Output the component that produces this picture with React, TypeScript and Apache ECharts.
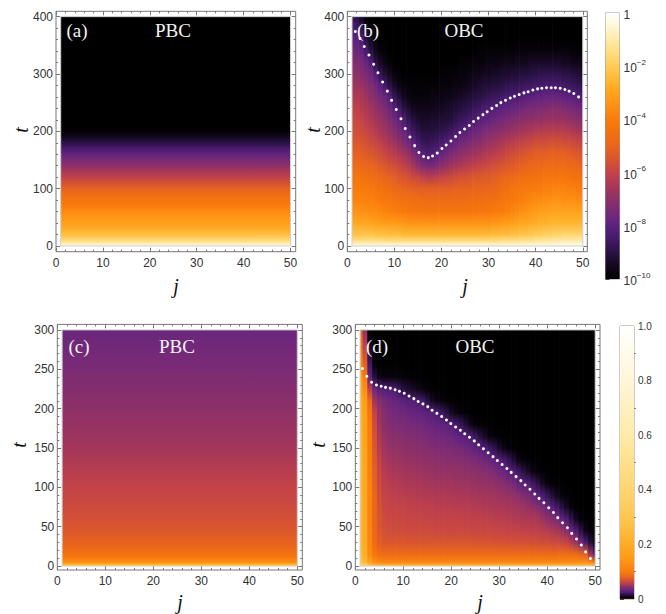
import React, { useEffect, useRef } from "react";
import * as echarts from "echarts";

const SERIF = "Liberation Serif";
const SANS = "Liberation Sans";

// colour ramp: position 0..100 -> colour (5 steps)
const rampColors = ["#000000","#13081f","#2a1245","#431a68","#5c2180","#762a78","#8d3068","#a93757","#c44347","#d8552f","#e8651f","#f2700f","#f97c0d","#fe8f13","#ffa31c","#ffb835","#ffcb58","#ffdc80","#ffeaa8","#fff6d8","#ffffff"];
// amplitude in thousandths -> ramp position, for the linear colour bar
const linearScale = [[0,0],[6,2],[15,10],[25,18],[30,20],[45,30],[60,40],[80,50],[100,60],[150,68],[200,72],[280,78],[400,83],[600,90],[800,95],[1000,100]];

const jTicks = [0,10,20,30,40,50];
const jMinor = [2,4,6,8,12,14,16,18,22,24,26,28,32,34,36,38,42,44,46,48];
const tTicksTop = [0,100,200,300,400];
const tMinorTop = [20,40,60,80,120,140,160,180,220,240,260,280,320,340,360,380];
const tTicksBottom = [0,50,100,150,200,250,300];
const tMinorBottom = [10,20,30,40,60,70,80,90,110,120,130,140,160,170,180,190,210,220,230,240,260,270,280,290];
const logBarTicks = [-10,-8,-6,-4,-2,0];
const linBarTicks = [0,0.2,0.4,0.6,0.8,1];
const linBarMinor = [0.1,0.3,0.5,0.7,0.9];
const sites = [1,2,3,4,5,6,7,8,9,10,11,12,13,14,15,16,17,18,19,20,21,22,23,24,25,26,27,28,29,30,31,32,33,34,35,36,37,38,39,40,41,42,43,44,45,46,47,48,49,50];

// (a) ramp level per time (log10 amplitude * 10 + 100), uniform in j
const aTimes = [0,5,10,20,30,40,50,60,70,80,90,100,110,120,130,140,150,160,170,180,190,200,210,400];
const aLevels = [[97,90,84,77,72,69,67,64,60,57,53,49,44,39,35,30,26,21,16,10,5,1,0,0]];

// (b) same unit, one row per site j; entries follow bTimes, missing tail = 0
const bTimes = [0,10,20,40,60,80,100,120,140,160,180,200,220,240,260,280,300,320,340,360,380,400];
const bLevels = [
[97,85,78,71,66,62,60,57,53,49,46,44,42,40,37,34,31,28,25,21,18,14],
[97,85,78,71,66,62,60,57,53,49,46,43,41,39,36,33,30,27,23,20,15,10],
[97,85,78,71,65,62,59,56,52,48,45,42,40,37,35,32,28,25,21,17,11,5],
[97,85,78,71,65,61,59,55,51,47,44,41,38,36,33,30,26,22,16,10,5,2],
[97,85,78,70,64,61,58,54,50,46,42,39,36,33,30,27,23,18,10,5,2],
[97,85,77,69,64,60,57,53,49,44,41,37,34,31,28,24,18,10,5,2],
[97,85,77,69,63,59,56,52,47,43,39,35,32,29,25,20,12,6,2],
[97,84,77,68,62,58,55,50,46,41,37,33,30,26,22,15,8,3,1],
[97,84,76,68,61,58,54,49,44,39,35,31,27,23,18,10,5,1],
[97,84,76,68,60,57,52,48,43,38,33,28,24,19,12,6,2],
[97,84,76,67,60,56,51,46,41,36,30,25,21,15,8,3,1],
[97,84,75,67,59,55,50,45,39,34,27,22,17,10,5,2],
[97,84,75,66,58,55,49,44,37,31,24,18,12,7,3,1],
[97,84,75,66,58,54,49,42,34,27,20,14,9,5,2,1],
[97,84,75,66,57,54,48,41,30,23,16,11,7,4,2,1],
[97,84,75,66,57,53,48,39,27,19,13,9,6,4,2,1],
[97,84,75,66,57,53,48,38,25,17,12,9,6,4,2,1],
[97,84,75,66,57,53,48,38,25,18,13,9,7,4,3,1],
[97,84,75,66,57,53,48,39,27,20,14,10,7,5,3,1],
[97,84,75,66,57,53,48,40,29,22,16,11,8,5,3,2,1],
[97,84,75,66,57,53,48,41,31,24,18,12,8,6,4,2,1],
[97,84,75,66,57,53,48,42,33,26,20,14,9,7,4,2,1],
[97,84,75,66,57,53,49,43,35,28,22,16,11,8,5,3,1],
[97,84,75,66,57,53,49,44,36,30,24,18,13,9,6,3,2,1],
[97,84,75,66,57,53,49,44,37,31,25,19,14,10,7,4,2,1],
[97,84,75,66,57,54,49,45,38,32,27,21,16,11,8,5,3,1],
[97,84,75,66,58,54,50,46,39,33,28,23,17,13,9,6,4,2],
[97,84,75,66,58,54,50,46,40,35,29,24,19,14,10,7,4,2,1],
[97,84,75,66,58,54,50,47,41,36,31,26,20,16,11,8,5,2,1],
[97,84,75,66,58,55,50,47,42,37,32,27,21,17,12,8,5,3,1],
[97,84,76,67,59,55,51,48,43,38,33,28,23,18,13,9,6,3,1],
[97,84,76,67,60,56,52,49,44,39,34,29,24,19,14,9,6,3,1],
[97,85,76,68,60,57,54,50,45,40,36,30,25,20,15,10,7,4,1],
[97,85,76,68,61,58,55,51,46,42,37,31,26,21,16,11,7,4,1],
[97,85,77,69,62,59,57,52,47,43,38,32,27,22,17,12,8,4,1],
[97,85,77,70,64,60,58,53,48,44,39,33,28,23,17,12,8,5,2],
[97,86,78,71,65,61,58,54,49,45,40,34,29,24,18,13,9,5,2],
[97,86,78,71,66,62,59,55,50,46,41,35,30,25,19,14,9,5,2],
[97,86,79,72,67,63,59,55,51,47,42,36,30,26,20,14,10,6,2],
[98,87,80,72,68,64,60,56,52,48,43,37,31,26,21,15,10,6,2],
[98,87,80,73,69,64,60,56,52,48,43,37,31,27,21,15,11,6,2],
[98,88,81,73,69,65,61,57,53,48,43,38,32,27,22,16,11,6,2],
[98,88,81,74,70,65,61,57,53,49,44,38,32,28,22,16,11,6,2],
[98,89,82,74,70,66,62,57,53,49,44,38,32,28,22,16,11,6,2],
[98,89,82,74,70,66,62,58,53,49,44,38,32,28,22,16,11,6,2],
[98,90,83,74,70,65,62,57,53,49,43,38,32,27,21,15,10,5,2],
[98,90,83,74,70,65,61,57,52,48,43,37,31,26,20,14,10,5,2],
[98,90,83,74,70,65,61,56,52,47,42,36,30,25,19,13,9,4,1],
[99,90,83,74,70,64,60,56,51,46,41,35,29,24,18,12,8,4,1],
[99,90,83,74,69,64,60,55,50,45,40,34,28,23,17,11,7,3,1],
];
const bDotJ = [1.7,2.7,3.6,4.6,5.6,6.5,7.5,8.5,9.4,10.4,11.4,12.3,13.3,14.3,15.2,16.2,17.2,18.1,19.1,20.1,21,22,23,23.9,24.9,25.9,26.8,27.8,28.8,29.7,30.7,31.7,32.6,33.6,34.6,35.5,36.5,37.5,38.4,39.4,40.4,41.3,42.3,43.3,44.2,45.2,46.2,47.1,48.1,49.1];
const bDotT = [374,362,348,333,317,302,286,270,254,238,222,205,190,175,163,156,154,157,162,170,176,183,191,198,204,210,217,223,229,234,240,245,250,254,258,261,264,267,269,272,274,275,276,276,276,275,273,270,266,260];

// (c) amplitude in thousandths per time, uniform in j
const cTimes = [0,3,5,10,15,25,50,75,100,150,200,250,300];
const cLevels = [[320,190,130,100,92,82,70,64,60,51,45,39,34]];

// (d) amplitude in thousandths, one row per site j; entries follow dTimes, missing tail = 0
const dTimes = [0,5,15,30,45,60,75,90,105,120,135,150,165,180,195,210,225,240,255,270,285,300];
const dLevels = [
[420,290,250,235,230,230,230,230,230,230,230,230,225,220,215,205,180,155,125,108,95,85],
[370,240,205,198,195,195,195,192,190,188,185,182,178,175,170,155,130,100,78,66,55,45],
[300,170,125,115,112,112,112,112,110,108,106,104,102,100,96,85,58,32,22,14,7,3],
[270,130,95,85,82,82,82,82,78,76,74,70,68,65,60,50,35,14,6,2,1],
[260,120,88,76,72,70,68,66,64,62,59,56,53,50,48,42,28,8,2,1],
[250,115,85,72,68,65,62,60,58,56,53,50,47,44,42,38,26,6,1],
[250,115,85,71,66,63,61,59,57,54,51,48,45,42,39,35,25,6,1],
[250,115,85,71,65,62,60,58,55,52,49,46,43,40,37,33,24,6,1],
[250,115,85,71,65,62,60,57,55,52,49,46,43,39,36,32,20,5,1],
[250,115,85,71,65,62,60,57,54,51,48,45,42,39,36,30,14,4,1],
[250,115,85,70,64,61,59,56,53,50,47,44,41,38,34,27,12,3],
[250,115,85,70,64,61,59,56,53,50,47,44,41,37,33,25,10,2],
[250,115,85,70,64,61,58,55,52,49,46,43,40,36,32,23,8,1],
[250,115,85,70,64,61,58,55,52,49,46,43,39,36,31,21,6,1],
[250,115,85,70,64,60,58,55,51,48,45,42,38,34,29,15,3],
[250,115,85,70,64,60,58,55,51,48,45,41,37,33,27,10,2],
[250,115,85,70,63,60,57,54,50,47,44,40,36,32,24,7,1],
[250,115,85,70,63,60,57,54,50,47,44,40,36,31,20,5,1],
[250,115,85,70,63,60,57,54,50,47,43,39,35,29,15,3],
[250,115,85,70,63,60,57,54,50,47,43,39,34,26,10,2],
[250,115,85,70,63,60,56,53,49,46,42,38,32,22,7,1],
[250,115,85,70,63,60,56,53,49,46,42,37,30,18,4,1],
[250,115,85,70,63,59,56,53,49,45,41,35,27,13,2],
[250,115,85,70,62,59,56,52,48,45,40,33,24,8,1],
[250,115,85,69,62,59,55,52,48,44,39,31,19,5],
[250,115,85,69,62,59,55,51,47,43,37,28,14,3],
[250,115,85,69,62,58,54,51,47,42,35,24,10,2],
[250,115,85,69,62,58,54,50,46,41,33,20,6,1],
[250,115,85,68,61,57,53,50,45,39,30,16,4],
[250,115,85,68,61,57,53,49,44,36,26,11,2],
[250,115,85,68,61,57,53,48,42,33,22,7,1],
[250,115,85,68,60,56,52,47,40,28,17,4,1],
[250,115,85,67,60,55,51,46,37,24,12,2],
[250,115,85,67,60,55,50,44,32,20,7,1],
[250,115,85,67,59,54,49,41,29,15,4],
[250,115,85,67,59,54,47,38,26,11,2],
[250,115,85,66,58,53,45,34,20,7,1],
[250,115,85,66,58,52,42,29,15,4,1],
[250,115,85,65,57,49,38,23,10,2],
[250,115,85,65,56,45,33,18,6,1],
[250,115,85,64,54,42,27,13,3],
[250,115,85,64,52,38,21,9,2],
[250,116,86,62,48,31,15,5,1],
[250,118,87,60,43,24,10,3],
[250,119,86,55,34,16,5,1],
[250,120,85,48,24,9,2],
[255,125,80,36,15,4,1],
[260,130,75,23,8,2],
[270,120,50,14,4,1],
[280,100,30,8,2],
];
const dDotJ = [1.5,2.4,3.4,4.4,5.4,6.3,7.3,8.3,9.2,10.2,11.2,12.2,13.1,14.1,15.1,16,17,18,19,19.9,20.9,21.9,22.8,23.8,24.8,25.7,26.7,27.7,28.7,29.6,30.6,31.6,32.5,33.5,34.5,35.4,36.4,37.4,38.3,39.3,40.3,41.3,42.2,43.2,44.2,45.1,46.1,47.1,48,49];
const dDotT = [251,241,233.5,230,228.4,227,226,224,222,219.5,216,212.7,209,206,202.5,198,194,190,185.6,181,176.7,172.5,168,163.6,159,154,149,144,139,134,129,124,119,113.6,108.5,103,97.5,91.5,86,80.5,74,68,61.5,55,48.7,41.5,34.3,26.7,18,9.7];

function hexToRgb(h: string) { return [1,3,5].map(i => parseInt(h.slice(i,i+2),16)); }
function rampColor(u: number) {
  const p = Math.max(0, Math.min(20, u / 5));
  const i = Math.min(19, Math.floor(p));
  const a = hexToRgb(rampColors[i]), b = hexToRgb(rampColors[i+1]);
  const c = a.map((x,k) => Math.round(x + (b[k]-x)*(p-i)));
  return `rgb(${c[0]},${c[1]},${c[2]})`;
}
function linearToRamp(v: number) {
  for (let i = 1; i < linearScale.length; i++) {
    const [v0,u0] = linearScale[i-1], [v1,u1] = linearScale[i];
    if (v <= v1) return u0 + (u1-u0)*(v-v0)/(v1-v0);
  }
  return 100;
}

type Panel = { left:number; top:number; width:number; height:number; xMax:number; yMin:number; yMax:number;
  cols:number[]; times:number[]; levels:number[][]; toRamp:(v:number)=>number;
  yTicks:number[]; yMinor:number[]; dotJ?:number[]; dotT?:number[]; tEnd:number };

const panels: Panel[] = [
  { left:56, top:11.3, width:239.7, height:240.4, xMax:51.1, yMin:-10, yMax:409.3, cols:[1], times:aTimes, levels:aLevels, toRamp:v=>v, yTicks:tTicksTop, yMinor:tMinorTop, tEnd:400 },
  { left:347.3, top:11.3, width:240, height:240.4, xMax:50.96, yMin:-10, yMax:409.3, cols:sites, times:bTimes, levels:bLevels, toRamp:v=>v, yTicks:tTicksTop, yMinor:tMinorTop, dotJ:bDotJ, dotT:bDotT, tEnd:400 },
  { left:57.3, top:324.4, width:245, height:245.6, xMax:51.04, yMin:-5, yMax:307, cols:[1], times:cTimes, levels:cLevels, toRamp:linearToRamp, yTicks:tTicksBottom, yMinor:tMinorBottom, tEnd:300 },
  { left:355.3, top:324.4, width:244.7, height:245.6, xMax:51, yMin:-5, yMax:307, cols:sites, times:dTimes, levels:dLevels, toRamp:linearToRamp, yTicks:tTicksBottom, yMinor:tMinorBottom, dotJ:dDotJ, dotT:dDotT, tEnd:300 },
];
const panelTexts = [
  { tag:"(a)", name:"PBC", tagX:77, nameX:173, y:30, jX:176, jY:286, tX:21, tY:130 },
  { tag:"(b)", name:"OBC", tagX:368, nameX:464, y:30, jX:465, jY:286, tX:313, tY:130 },
  { tag:"(c)", name:"PBC", tagX:79, nameX:177, y:346, jX:180, jY:602, tX:19, tY:445 },
  { tag:"(d)", name:"OBC", tagX:377, nameX:475, y:346, jX:480, jY:602, tX:318, tY:445 },
];

const FRAME = "#777777";
function axisFrame(kind:"x"|"y", gridIndex:number, min:number, max:number, major:number[], minor:number[]) {
  const sides = kind === "x" ? ["bottom","top"] : ["left","right"];
  const out:any[] = [];
  sides.forEach((position,s) => {
    [major, minor].forEach((values,m) => {
      const first = s === 0 && m === 0;
      out.push({
        type:"value", gridIndex, position, min, max, scale:true,
        axisLine:{ show:false, onZero:false }, splitLine:{ show:false },
        axisTick:{ show:true, inside:true, length:m===0?4:2, customValues:values, lineStyle:{ color:FRAME, width:1 } },
        axisLabel: first
          ? { show:true, customValues:major, margin:kind==="x"?5:3, fontFamily:SANS, fontSize:12, color:"#333333", hideOverlap:false }
          : { show:false },
      });
    });
  });
  return out;
}

function buildOption() {
  const grid:any[] = [], xAxis:any[] = [], yAxis:any[] = [], series:any[] = [], graphic:any[] = [];
  panels.forEach((p,pi) => {
    grid.push({ left:p.left, top:p.top, width:p.width, height:p.height, show:true, borderColor:FRAME, borderWidth:1, backgroundColor:"transparent" });
    const xi = xAxis.length, yi = yAxis.length;
    xAxis.push(...axisFrame("x",pi,0,p.xMax,jTicks,jMinor));
    yAxis.push(...axisFrame("y",pi,p.yMin,p.yMax,p.yTicks,p.yMinor));
    const edges = p.cols.map((c,i) => [
      i === 0 ? 1 : (p.cols[i-1]+c)/2,
      i === p.cols.length-1 ? 50 : (p.cols[i+1]+c)/2,
    ]);
    if (p.cols.length === 1) edges[0] = [1,50];
    const tMax = p.tEnd;
    series.push({
      type:"custom", xAxisIndex:xi, yAxisIndex:yi, silent:true, z:1,
      data:p.cols.map((_,i) => [edges[i][0],edges[i][1],i]),
      encode:{ x:[0,1] },
      renderItem:(_:any,api:any) => {
        const i = api.value(2);
        const a = api.coord([api.value(0),tMax]);
        const b = api.coord([api.value(1),0]);
        const row = p.levels[i];
        const colorStops = p.times.map((t,k) => ({ offset:t/tMax, color:rampColor(p.toRamp(row[k] ?? 0)) }));
        return { type:"rect", shape:{ x:a[0], y:a[1], width:b[0]-a[0]+(i===p.cols.length-1?0:0.7), height:b[1]-a[1] },
          style:{ fill:new echarts.graphic.LinearGradient(0,1,0,0,colorStops) } };
      },
    });
    series.push({ type:"line", xAxisIndex:xi, yAxisIndex:yi, silent:true, z:2, symbol:"none",
      lineStyle:{ color:"#cfcfcf", width:1 }, data:[[1,0],[1,tMax],[50,tMax],[50,0],[1,0]] });
    if (p.dotJ && p.dotT) {
      series.push({ type:"scatter", xAxisIndex:xi, yAxisIndex:yi, silent:true, z:3, symbolSize:3,
        itemStyle:{ color:"#ffffff", opacity:1 }, data:p.dotJ.map((j,k) => [j,p.dotT![k]]) });
    }
    const txt = panelTexts[pi];
    [[txt.tag,txt.tagX],[txt.name,txt.nameX]].forEach(([s,x]) => graphic.push({
      type:"text", x, y:txt.y, z:50,
      style:{ text:s, fill:"#f2f2f2", fontFamily:SERIF, fontSize:19, textAlign:"center", textVerticalAlign:"middle" },
    }));
    graphic.push({ type:"text", x:txt.jX, y:txt.jY, z:50,
      style:{ text:"j", fill:"#111111", fontFamily:SERIF, fontStyle:"italic", fontSize:20, textAlign:"center", textVerticalAlign:"middle" } });
    graphic.push({ type:"text", x:txt.tX, y:txt.tY, rotation:Math.PI/2, z:50,
      style:{ text:"t", fill:"#111111", fontFamily:SERIF, fontStyle:"italic", fontSize:20, textAlign:"center", textVerticalAlign:"middle" } });
  });

  const addBar = (left:number,top:number,height:number,min:number,max:number,ticks:number[],minor:number[],fmt:any,rich:any,fontSize:number,stops:any[]) => {
    const gi = grid.length;
    grid.push({ left, top, width:14, height, show:true, borderColor:"#999999", borderWidth:1, backgroundColor:"transparent" });
    const xi = xAxis.length, yi = yAxis.length;
    xAxis.push({ type:"value", gridIndex:gi, min:0, max:1, show:false });
    yAxis.push({ type:"value", gridIndex:gi, position:"right", min, max, scale:true,
      axisLine:{ show:false }, splitLine:{ show:false },
      axisTick:{ show:true, length:4, customValues:ticks, lineStyle:{ color:"#444444" } },
      axisLabel:{ show:true, customValues:ticks, margin:4, fontFamily:SANS, fontSize, color:"#333333", formatter:fmt, rich, hideOverlap:false } });
    if (minor.length) yAxis.push({ type:"value", gridIndex:gi, position:"right", min, max, scale:true,
      axisLine:{ show:false }, splitLine:{ show:false }, axisLabel:{ show:false },
      axisTick:{ show:true, length:2, customValues:minor, lineStyle:{ color:"#888888" } } });
    series.push({ type:"custom", xAxisIndex:xi, yAxisIndex:yi, silent:true, data:[[0,1]], encode:{ x:0 },
      renderItem:(_:any,api:any) => {
        const a = api.coord([0,max]), b = api.coord([1,min]);
        return { type:"rect", shape:{ x:a[0], y:a[1], width:b[0]-a[0], height:b[1]-a[1] },
          style:{ fill:new echarts.graphic.LinearGradient(0,1,0,0,stops) } };
      } });
  };
  addBar(605.5,13,266,-10,0,logBarTicks,[],
    (v:number) => v === 0 ? "{a|1}" : `{a|10}{s|\u2212${Math.abs(v)}}`,
    { a:{ fontFamily:SANS, fontSize:12, color:"#333333", verticalAlign:"bottom", lineHeight:16 },
      s:{ fontFamily:SANS, fontSize:8, color:"#333333", verticalAlign:"top", lineHeight:16 } },
    12, rampColors.map((_,i) => ({ offset:i/20, color:rampColor(i*5) })));
  addBar(620,326,273,0,1,linBarTicks,linBarMinor,
    (v:number) => v === 0 ? "0" : v.toFixed(1), undefined, 10,
    [{ offset:0, color:"#7a1010" }, { offset:0.004, color:"#000000" }].concat(
      linearScale.slice(1).map(([v,u]) => ({ offset:v/1000, color:rampColor(u) }))));
  return { animation:false, backgroundColor:"#ffffff", grid, xAxis, yAxis, series, graphic };
}

export default function App() {
  const ref = useRef<HTMLDivElement>(null);
  useEffect(() => {
    const chart = echarts.init(ref.current!, undefined, { renderer:"svg" });
    chart.setOption(buildOption() as any);
    return () => chart.dispose();
  }, []);
  return <div ref={ref} style={{ position:"absolute", left:0, top:0, width:666, height:614 }} />;
}
